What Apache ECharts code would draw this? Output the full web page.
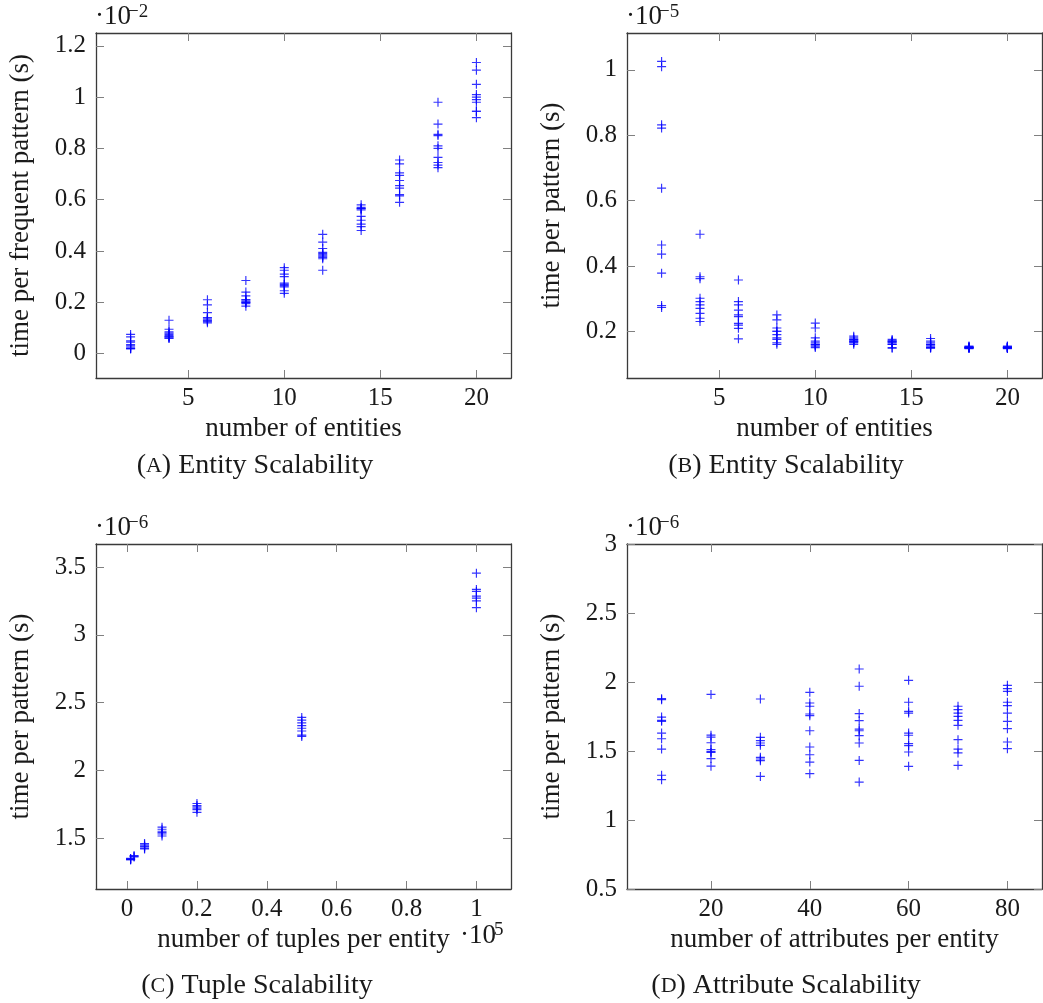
<!DOCTYPE html>
<html>
<head>
<meta charset="utf-8">
<script src="https://cdn.jsdelivr.net/npm/echarts@6/dist/echarts.min.js"></script>
<style>
html,body{margin:0;padding:0;background:#fff;}
#main{width:1043px;height:1003px;}
</style>
</head>
<body>
<div id="main"></div>
<script>
// ---------- DATA ----------
// (A) time per frequent pattern, in units of 1e-2 s
const entitiesA = [2, 4, 6, 8, 10, 12, 14, 16, 18, 20];
const timeFreqA = [
  [0.075, 0.065, 0.05, 0.035, 0.025, 0.02, 0.02, 0.018, 0.03, 0.045],
  [0.13, 0.095, 0.085, 0.08, 0.075, 0.07, 0.065, 0.065, 0.06, 0.06],
  [0.21, 0.19, 0.16, 0.14, 0.135, 0.13, 0.125, 0.12, 0.14, 0.13],
  [0.285, 0.24, 0.225, 0.21, 0.205, 0.2, 0.195, 0.185, 0.21, 0.2],
  [0.335, 0.325, 0.31, 0.3, 0.275, 0.265, 0.26, 0.245, 0.235, 0.27],
  [0.465, 0.435, 0.41, 0.39, 0.385, 0.38, 0.375, 0.37, 0.325, 0.395],
  [0.58, 0.57, 0.565, 0.56, 0.535, 0.52, 0.505, 0.495, 0.48, 0.565],
  [0.755, 0.74, 0.705, 0.695, 0.675, 0.655, 0.645, 0.62, 0.615, 0.59],
  [0.98, 0.895, 0.855, 0.85, 0.81, 0.8, 0.765, 0.745, 0.735, 0.725],
  [1.135, 1.105, 1.05, 1.01, 1.0, 0.99, 0.98, 0.945, 0.945, 0.92]
];
// (B) time per pattern, in units of 1e-5 s
const entitiesB = [2, 4, 6, 8, 10, 12, 14, 16, 18, 20];
const timePatB = [
  [1.026, 1.01, 0.832, 0.822, 0.638, 0.464, 0.436, 0.378, 0.279, 0.273],
  [0.497, 0.367, 0.361, 0.301, 0.291, 0.281, 0.27, 0.255, 0.24, 0.23],
  [0.357, 0.291, 0.281, 0.265, 0.25, 0.245, 0.224, 0.219, 0.209, 0.177],
  [0.25, 0.235, 0.21, 0.2, 0.19, 0.18, 0.175, 0.165, 0.16, 0.2],
  [0.225, 0.21, 0.18, 0.17, 0.165, 0.16, 0.16, 0.155, 0.155, 0.15],
  [0.185, 0.18, 0.175, 0.17, 0.17, 0.165, 0.165, 0.16, 0.175, 0.17],
  [0.175, 0.17, 0.17, 0.165, 0.165, 0.16, 0.16, 0.15, 0.148, 0.17],
  [0.178, 0.17, 0.165, 0.16, 0.155, 0.15, 0.148, 0.155, 0.16, 0.15],
  [0.155, 0.153, 0.152, 0.15, 0.15, 0.149, 0.148, 0.147, 0.152, 0.15],
  [0.155, 0.153, 0.152, 0.15, 0.15, 0.149, 0.148, 0.147, 0.151, 0.15]
];
// (C) tuples per entity vs time per pattern (units of 1e-6 s)
const tuplesC = [1000, 2000, 5000, 10000, 20000, 50000, 100000];
const timePatC = [
  [1.34, 1.345, 1.35, 1.345, 1.34],
  [1.36, 1.37, 1.365],
  [1.46, 1.45, 1.44, 1.435, 1.425, 1.42],
  [1.58, 1.565, 1.55, 1.54, 1.53, 1.515],
  [1.755, 1.74, 1.73, 1.72, 1.71, 1.69],
  [2.39, 2.37, 2.35, 2.33, 2.31, 2.29, 2.26, 2.25],
  [3.455, 3.335, 3.32, 3.285, 3.27, 3.25, 3.2]
];
// (D) attributes per entity vs time per pattern (units of 1e-6 s)
const attrsD = [10, 20, 30, 40, 50, 60, 70, 80];
const timePatD = [
  [1.879, 1.872, 1.746, 1.722, 1.715, 1.63, 1.589, 1.514, 1.324, 1.292],
  [1.91, 1.615, 1.6, 1.56, 1.51, 1.495, 1.49, 1.445, 1.39],
  [1.877, 1.599, 1.575, 1.558, 1.541, 1.454, 1.442, 1.43, 1.316],
  [1.925, 1.848, 1.824, 1.768, 1.756, 1.647, 1.529, 1.473, 1.42, 1.336],
  [2.094, 1.969, 1.771, 1.72, 1.659, 1.647, 1.611, 1.558, 1.432, 1.275],
  [2.012, 1.853, 1.787, 1.775, 1.63, 1.614, 1.553, 1.539, 1.493, 1.389],
  [1.824, 1.8, 1.775, 1.751, 1.722, 1.686, 1.582, 1.514, 1.486, 1.396],
  [1.976, 1.952, 1.932, 1.853, 1.829, 1.775, 1.715, 1.662, 1.565, 1.517]
];
// tick labels
const xTicksA = [5, 10, 15, 20];
const yTicksA = [0, 0.2, 0.4, 0.6, 0.8, 1, 1.2];
const xTicksB = [5, 10, 15, 20];
const yTicksB = [0.2, 0.4, 0.6, 0.8, 1];
const xTicksC = [0, 20000, 40000, 60000, 80000, 100000];
const yTicksC = [1.5, 2, 2.5, 3, 3.5];
const xTicksD = [20, 40, 60, 80];
const yTicksD = [0.5, 1, 1.5, 2, 2.5, 3];

// ---------- STYLE ----------
const FONT = 'Liberation Serif';
const TXT = '#1a1a1a';
const FS = 25;      // tick labels
const NFS = 27;     // axis names
const CFS = 28;     // captions
const PLUS = 'path://M0,4.35H10V5.65H0Z M4.35,0H5.65V10H4.35Z';

const grids = [
  {left: 96, top: 33, width: 415, height: 345},
  {left: 627, top: 33, width: 415, height: 345},
  {left: 96, top: 544, width: 415, height: 345},
  {left: 627, top: 544, width: 415, height: 345}
];

function tick(vals) {
  return {show: true, inside: true, length: 8, lineStyle: {color: '#808080', width: 1}, customValues: vals};
}
function boxLine() {
  return {show: true, onZero: false, lineStyle: {color: '#3a3a3a', width: 1.3}};
}
function xAxes(gi, min, max, ticks, name, fmt) {
  const label = {customValues: ticks, fontFamily: FONT, fontSize: FS, color: TXT, margin: 8};
  if (fmt) label.formatter = fmt;
  const bottom = {
    type: 'value', gridIndex: gi, min, max, position: 'bottom',
    axisLine: boxLine(), splitLine: {show: false}, axisTick: tick(ticks),
    axisLabel: label,
    name, nameLocation: 'middle', nameGap: 37,
    nameTextStyle: {fontFamily: FONT, fontSize: NFS, color: TXT, verticalAlign: 'top'}
  };
  const top = {
    type: 'value', gridIndex: gi, min, max, position: 'top',
    axisLine: boxLine(), splitLine: {show: false}, axisTick: tick(ticks),
    axisLabel: {show: false}
  };
  return [bottom, top];
}
function yAxes(gi, min, max, ticks, name) {
  const left = {
    type: 'value', gridIndex: gi, min, max, position: 'left',
    axisLine: boxLine(), splitLine: {show: false}, axisTick: tick(ticks),
    axisLabel: {customValues: ticks, fontFamily: FONT, fontSize: FS, color: TXT, margin: 10},
    name, nameLocation: 'middle', nameGap: 62, nameRotate: 90,
    nameTextStyle: {fontFamily: FONT, fontSize: NFS, color: TXT}
  };
  const right = {
    type: 'value', gridIndex: gi, min, max, position: 'right',
    axisLine: boxLine(), splitLine: {show: false}, axisTick: tick(ticks),
    axisLabel: {show: false}
  };
  return [left, right];
}

const xAxis = [].concat(
  xAxes(0, 0.2, 21.8, xTicksA, 'number of entities'),
  xAxes(1, 0.2, 21.8, xTicksB, 'number of entities'),
  xAxes(2, -8900, 109900, xTicksC, 'number of tuples per entity', v => String(v / 100000)),
  xAxes(3, 3, 87, xTicksD, 'number of attributes per entity')
);
const yAxis = [].concat(
  yAxes(0, -0.095, 1.25, yTicksA, 'time per frequent pattern (s)'),
  yAxes(1, 0.057, 1.113, yTicksB, 'time per pattern (s)'),
  yAxes(2, 1.124, 3.67, yTicksC, 'time per pattern (s)'),
  yAxes(3, 0.5, 3, yTicksD, 'time per pattern (s)')
);

function pairs(xs, cols) {
  const out = [];
  xs.forEach((x, i) => cols[i].forEach(y => out.push([x, y])));
  return out;
}
function scatter(idx, data) {
  return {
    type: 'scatter', xAxisIndex: idx * 2, yAxisIndex: idx * 2, data,
    symbol: PLUS, symbolSize: 9, itemStyle: {color: '#0000ff'},
    silent: true, animation: false
  };
}
const series = [
  scatter(0, pairs(entitiesA, timeFreqA)),
  scatter(1, pairs(entitiesB, timePatB)),
  scatter(2, pairs(tuplesC, timePatC)),
  scatter(3, pairs(attrsD, timePatD))
];

function txt(x, y, text, size, align) {
  return {type: 'text', x, y, silent: true,
    style: {text, fontFamily: FONT, fontSize: size, fill: TXT, align: align || 'left', verticalAlign: 'middle'}};
}
function caption(x, y, letter, rest) {
  return {type: 'text', x, y, silent: true,
    style: {text: '({sc|' + letter + '}) ' + rest, fontFamily: FONT, fontSize: CFS, fill: TXT,
      align: 'center', verticalAlign: 'middle',
      rich: {sc: {fontFamily: FONT, fontSize: 22, fill: TXT}}}};
}
const graphic = [
  txt(95, 17, '·10', 27), txt(128, 12, '−2', 19),
  txt(626, 17, '·10', 27), txt(659, 12, '−5', 19),
  txt(95, 528, '·10', 27), txt(128, 523, '−6', 19),
  txt(626, 528, '·10', 27), txt(659, 523, '−6', 19),
  txt(460, 936, '·10', 27), txt(494, 930, '5', 19),
  caption(255, 466, 'A', 'Entity Scalability'),
  caption(786, 466, 'B', 'Entity Scalability'),
  caption(257, 986, 'C', 'Tuple Scalability'),
  caption(786, 986, 'D', 'Attribute Scalability')
];

const chart = echarts.init(document.getElementById('main'), null, {renderer: 'canvas'});
chart.setOption({
  animation: false,
  grid: grids, xAxis, yAxis, series, graphic
});
</script>
</body>
</html>
